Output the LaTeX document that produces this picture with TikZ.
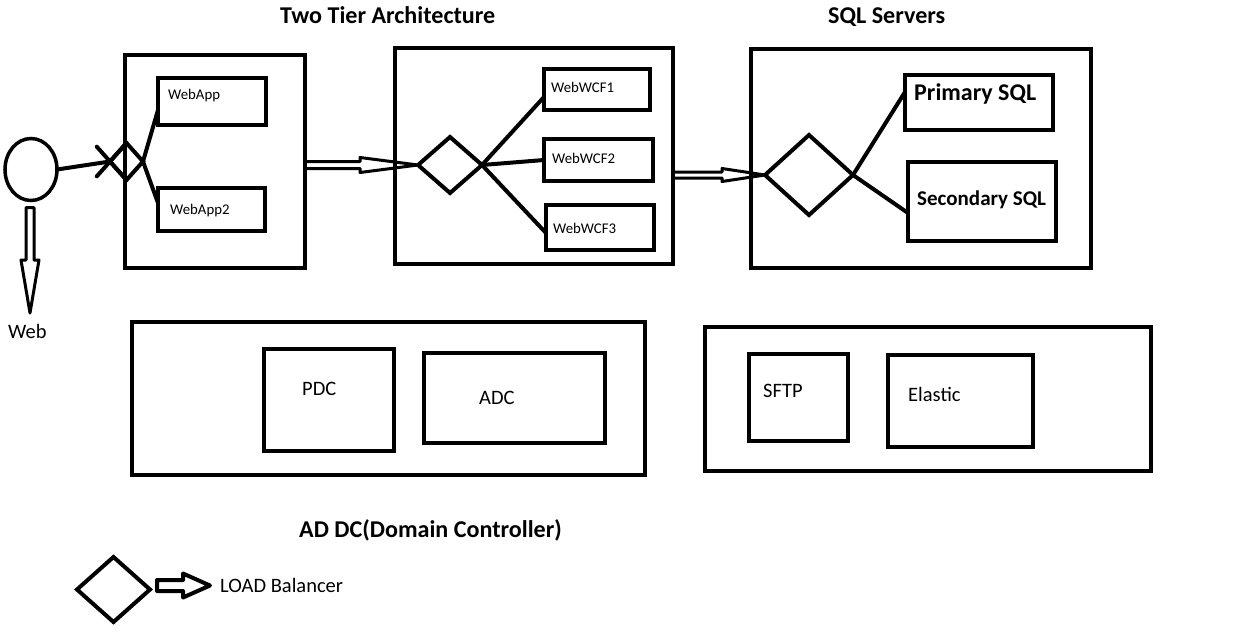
\documentclass[tikz,border=0pt]{standalone}
\usepackage{fontspec}
\setmainfont{Carlito}
\usetikzlibrary{shapes.geometric,calc}
\tikzset{
  box/.style={draw, line width=4pt, inner sep=0pt, outer sep=0pt},
  lb/.style={draw, shape=diamond, line width=4pt, inner sep=0pt, outer sep=0pt},
  wire/.style={line width=4pt, line cap=round},
  hollow/.style={line width=3pt, line join=round},
  small/.style={anchor=base west, inner sep=0pt, font=\fontsize{14.8}{17}\selectfont},
  reg/.style={anchor=base west, inner sep=0pt, font=\fontsize{20.5}{24}\selectfont},
  ttl/.style={anchor=base west, inner sep=0pt, font=\fontsize{24.1}{28}\selectfont\bfseries},
}
% horizontal hollow arrow: #1 start, #2 tip, #3 shaft half, #4 head half, #5 head length
\newcommand{\hollowH}[5]{%
  \draw[hollow] let \p1=(#1), \p2=(#2) in
    (\x1,\y2+#3) -- (\x2-#5,\y2+#3) -- (\x2-#5,\y2+#4) -- (\x2,\y2)
    -- (\x2-#5,\y2-#4) -- (\x2-#5,\y2-#3) -- (\x1,\y2-#3) -- cycle;}
\begin{document}
\begin{tikzpicture}[x=1pt,y=-1pt]
\useasboundingbox (0,0) rectangle (1247,632);

% titles
\node[ttl] (t1) at (280,23) {Two Tier Architecture};
\node[ttl] (t2) at (828,23) {SQL Servers};
\node[ttl] (t3) at (299,537) {AD DC(Domain Controller)};

% web client
\node[draw, shape=ellipse, line width=3.5pt, minimum width=52pt, minimum height=62pt, inner sep=0pt, outer sep=0pt] (web) at (31,169.5) {};
\coordinate (webtip) at (30,313);
\draw[hollow] let \p1=([yshift=-7pt]web.south), \p2=(webtip) in
  (\x2-4pt,\y1) -- (\x2-4pt,\y2+53pt) -- (\x2-9pt,\y2+53pt) -- (\x2,\y2)
  -- (\x2+9pt,\y2+53pt) -- (\x2+4pt,\y2+53pt) -- (\x2+4pt,\y1) -- cycle;
\node[reg] (weblbl) at (8,338) {Web};

% tier 1
\node[box, minimum width=180pt, minimum height=213pt] (b1) at (215,161.5) {};
\node[box, minimum width=108pt, minimum height=47pt] (webapp) at (212,101.5) {};
\node[box, minimum width=107pt, minimum height=43pt] (webapp2) at (211.5,209.5) {};
\node[small] (webapptxt) at (168,99) {WebApp};
\node[small] (webapp2txt) at (170,214) {WebApp2};
\node[lb, minimum width=33pt, minimum height=37pt] (d1) at (126.5,161.5) {};
\draw[wire] (d1.north) -- ($(d1.north)!1.8!(d1.west)$);
\draw[wire] (d1.south) -- ($(d1.south)!1.8!(d1.west)$);
\draw[wire] (web.east) -- (d1.west);
\draw[wire] (d1.east) -- ([yshift=15pt]webapp.south west);
\draw[wire] (d1.east) -- ([yshift=-15pt]webapp2.north west);

% tier 2
\node[box, minimum width=278pt, minimum height=216pt] (b2) at (534,156) {};
\node[box, minimum width=106pt, minimum height=41pt] (wcf1) at (597,89.5) {};
\node[box, minimum width=109pt, minimum height=42pt] (wcf2) at (598.5,160) {};
\node[box, minimum width=108pt, minimum height=45pt] (wcf3) at (600,227.5) {};
\node[small] (wcf1txt) at (551,92) {WebWCF1};
\node[small] (wcf2txt) at (552,163) {WebWCF2};
\node[small] (wcf3txt) at (553,233) {WebWCF3};
\node[lb, minimum width=64pt, minimum height=56pt] (d2) at (450,165) {};
\draw[wire] (d2.east) -- ([yshift=13pt]wcf1.south west);
\draw[wire] (d2.east) -- (wcf2.west);
\draw[wire] (d2.east) -- ([yshift=17pt]wcf3.south west);
\hollowH{b1.east}{d2.west}{3.5pt}{7.5pt}{58pt}

% SQL
\node[box, minimum width=340pt, minimum height=219pt] (b3) at (921,158.5) {};
\node[box, minimum width=148pt, minimum height=55pt] (prim) at (979,102.5) {};
\node[box, minimum width=148pt, minimum height=79pt] (sec) at (982,201.5) {};
\node[anchor=base west, inner sep=0pt, font=\fontsize{24}{28}\selectfont\bfseries] (primtxt) at (914,100) {Primary SQL};
\node[anchor=base west, inner sep=0pt, font=\fontsize{21}{25}\selectfont\bfseries] (sectxt) at (917,205) {Secondary SQL};
\node[lb, minimum width=88pt, minimum height=80pt] (d3) at (809,175) {};
\draw[wire] (d3.east) -- ([yshift=-17pt]prim.north west);
\draw[wire] (d3.east) -- ([yshift=28pt]sec.south west);
\hollowH{b2.east}{d3.west}{3pt}{6.5pt}{43pt}

% AD DC
\node[box, minimum width=513pt, minimum height=153pt] (ad) at (388.5,398.5) {};
\node[box, minimum width=130pt, minimum height=102pt] (pdc) at (329,400) {};
\node[box, minimum width=181pt, minimum height=90pt] (adc) at (514.5,398) {};
\node[reg] (pdctxt) at (302,395) {PDC};
\node[reg] (adctxt) at (479,404) {ADC};

% SFTP / Elastic
\node[box, minimum width=446pt, minimum height=144pt] (misc) at (928,399) {};
\node[box, minimum width=99pt, minimum height=87pt] (sftp) at (798.5,397.5) {};
\node[box, minimum width=145pt, minimum height=92pt] (elastic) at (960.5,401) {};
\node[reg] (sftptxt) at (763,397) {SFTP};
\node[reg] (elastictxt) at (908,401) {Elastic};

% legend
\node[lb, minimum width=73pt, minimum height=65pt] (ld) at (113.5,589.5) {};
\coordinate (ltip) at (210,585.5);
\draw[line width=4pt, line join=round] let \p1=([xshift=7pt]ld.east), \p2=(ltip) in
  (\x1,\y2+5.5pt) -- (\x2-27pt,\y2+5.5pt) -- (\x2-27pt,\y2+12pt) -- (\x2,\y2)
  -- (\x2-27pt,\y2-12pt) -- (\x2-27pt,\y2-5.5pt) -- (\x1,\y2-5.5pt) -- cycle;
\node[reg] (legtxt) at (220,592) {LOAD Balancer};
\end{tikzpicture}
\end{document}
